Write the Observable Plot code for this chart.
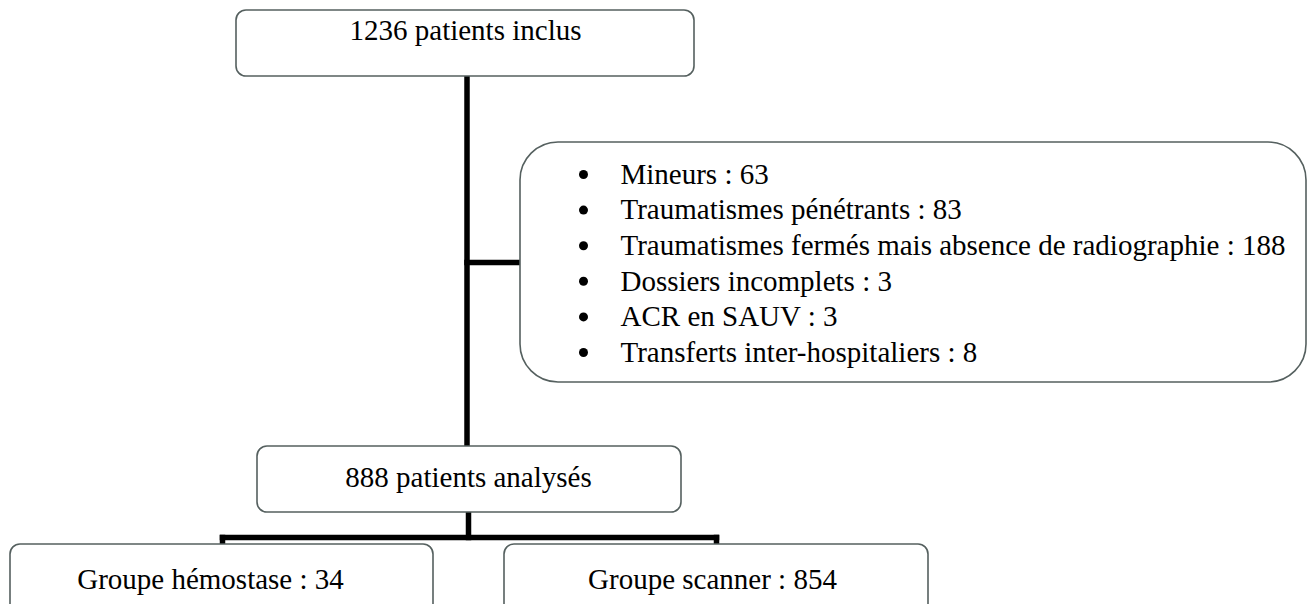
<!DOCTYPE html>
<html>
<head>
<meta charset="utf-8">
<script src="https://cdn.jsdelivr.net/npm/d3@7"></script>
<script src="https://cdn.jsdelivr.net/npm/@observablehq/plot@0.6"></script>
<style>
  html, body { margin: 0; padding: 0; background: #fff; overflow: hidden; }
  #chart svg { display: block; }
</style>
</head>
<body>
<div id="chart"></div>
<script>
// ---- Data ----
const includedCount = 1236;
const includedLabel = "patients inclus";
const exclusionLabels = [
  "Mineurs",
  "Traumatismes pénétrants",
  "Traumatismes fermés mais absence de radiographie",
  "Dossiers incomplets",
  "ACR en SAUV",
  "Transferts inter-hospitaliers"
];
const exclusionCounts = [63, 83, 188, 3, 3, 8];
const analysedCount = 888;
const analysedLabel = "patients analysés";
const groupLabels = ["Groupe hémostase", "Groupe scanner"];
const groupCounts = [34, 854];

// ---- Layout (flowchart geometry, in pixel units of the scales) ----
const W = 1312, H = 604;
const boxTop      = {x1: 236, x2: 694, y1: 10,  y2: 76,  tx: 465, ty: 30};
const boxExcl     = {x1: 520, x2: 1306, y1: 142, y2: 382};
const boxAnalysed = {x1: 257, x2: 681, y1: 446, y2: 512, tx: 468, ty: 477};
const boxGroups   = [
  {x1: 10,  x2: 433, y1: 544, y2: 650, tx: 210, ty: 579},
  {x1: 504, x2: 928, y1: 544, y2: 650, tx: 712, ty: 579}
];
const exclLineY0 = 174, exclLineStep = 35.6, bulletX = 583, exclTextX = 620;

const smallBoxes = [
  {...boxTop, label: `${includedCount} ${includedLabel}`},
  {...boxAnalysed, label: `${analysedCount} ${analysedLabel}`},
  ...groupLabels.map((g, i) => ({...boxGroups[i], label: `${g} : ${groupCounts[i]}`}))
];
const exclItems = exclusionLabels.map((l, i) => ({
  label: `${l} : ${exclusionCounts[i]}`,
  y: exclLineY0 + i * exclLineStep
}));

const connectors = [
  {x1: 466.5, y1: boxTop.y2, x2: 466.5, y2: boxAnalysed.y1},   // main trunk
  {x1: 466.5, y1: 262, x2: boxExcl.x1, y2: 262},               // branch to exclusions
  {x1: 468, y1: boxAnalysed.y2, x2: 468, y2: 537},             // down from analysed
  {x1: 222, y1: 537, x2: 716, y2: 537},                        // split bar
  {x1: 222, y1: 537, x2: 222, y2: boxGroups[0].y1},
  {x1: 716, y1: 537, x2: 716, y2: boxGroups[1].y1}
];

const font = "Liberation Serif, Times New Roman, serif";
const boxStroke = "#55605f";
const fs = 29;

const chart = Plot.plot({
  width: W,
  height: H,
  margin: 0,
  x: {domain: [0, W], range: [0, W], axis: null},
  y: {domain: [0, H], range: [0, H], axis: null},
  style: {fontFamily: font, background: "#fff"},
  marks: [
    Plot.link(connectors, {
      x1: "x1", y1: "y1", x2: "x2", y2: "y2",
      stroke: "black", strokeWidth: 5.5, strokeLinecap: "square"
    }),
    Plot.rect(smallBoxes, {
      x1: "x1", x2: "x2", y1: "y1", y2: "y2",
      rx: 10, fill: "white", stroke: boxStroke, strokeWidth: 1.6
    }),
    Plot.rect([boxExcl], {
      x1: "x1", x2: "x2", y1: "y1", y2: "y2",
      rx: 38, fill: "white", stroke: boxStroke, strokeWidth: 1.6
    }),
    Plot.text(smallBoxes, {
      x: "tx", y: "ty", text: "label",
      fontSize: fs, fill: "black", textAnchor: "middle", fontFamily: font
    }),
    Plot.dot(exclItems, {
      x: () => bulletX, y: "y", r: 4.5, fill: "black", stroke: "none"
    }),
    Plot.text(exclItems, {
      x: () => exclTextX, y: "y", text: "label",
      fontSize: fs, fill: "black", textAnchor: "start", fontFamily: font
    })
  ]
});
document.getElementById("chart").append(chart);
</script>
</body>
</html>
